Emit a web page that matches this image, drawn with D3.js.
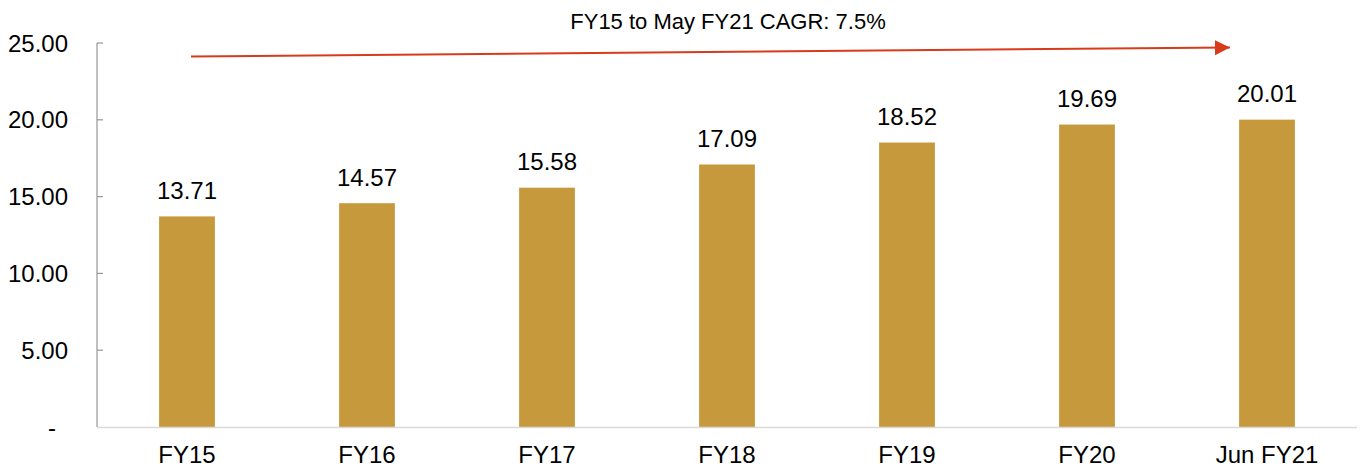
<!DOCTYPE html>
<html>
<head>
<meta charset="utf-8">
<script src="https://cdn.jsdelivr.net/npm/d3@7"></script>
<style>
  body { margin: 0; background: #fff; }
  svg text { font-family: Arial, "Liberation Sans", sans-serif; fill: #000; }
</style>
</head>
<body>
<div id="chart"></div>
<script>
// chart data
var categories = ['FY15', 'FY16', 'FY17', 'FY18', 'FY19', 'FY20', 'Jun FY21'];
var values = [13.71, 14.57, 15.58, 17.09, 18.52, 19.69, 20.01];
var yTicks = [0, 5, 10, 15, 20, 25];
var cagrLabel = 'FY15 to May FY21 CAGR: 7.5%';

var W = 1362, H = 470
  , plotLeft = 97, plotRight = 1357, plotTop = 43, plotBottom = 427
  , barColor = '#C69A3C'
  , arrowColor = '#D93A1A';

var svg = d3.select('#chart').append('svg')
    .attr('width', W)
    .attr('height', H);

var x = d3.scaleBand()
    .domain(categories)
    .range([plotLeft, plotRight])
    .paddingInner(0.69)
    .paddingOuter(0.345);

var y = d3.scaleLinear()
    .domain([0, 25])
    .range([plotBottom, plotTop]);

// bars
svg.selectAll('rect.bar')
    .data(values)
  .enter().append('rect')
    .attr('class', 'bar')
    .attr('x', function (d, i) { return x(categories[i]); })
    .attr('y', function (d) { return y(d); })
    .attr('width', x.bandwidth())
    .attr('height', function (d) { return y(0) - y(d); })
    .style('fill', barColor);

// value labels
svg.selectAll('text.val')
    .data(values)
  .enter().append('text')
    .attr('class', 'val')
    .attr('x', function (d, i) { return x(categories[i]) + x.bandwidth() / 2; })
    .attr('y', function (d) { return y(d) - 17.5; })
    .style('text-anchor', 'middle')
    .style('font-size', '24px')
    .text(function (d) { return d.toFixed(2); });

// x axis line
svg.append('line')
    .attr('x1', plotLeft).attr('x2', plotRight)
    .attr('y1', plotBottom + 0.5).attr('y2', plotBottom + 0.5)
    .style('stroke', '#d9d9d9')
    .style('stroke-width', 1.5);

// y axis line + inward ticks
svg.append('line')
    .attr('x1', plotLeft).attr('x2', plotLeft)
    .attr('y1', plotTop).attr('y2', plotBottom)
    .style('stroke', '#969696')
    .style('stroke-width', 1.2);

svg.selectAll('line.ytick')
    .data(yTicks.slice(1))
  .enter().append('line')
    .attr('class', 'ytick')
    .attr('x1', plotLeft).attr('x2', plotLeft + 6)
    .attr('y1', function (d) { return y(d); })
    .attr('y2', function (d) { return y(d); })
    .style('stroke', '#969696')
    .style('stroke-width', 1.2);

svg.selectAll('text.ylab')
    .data(yTicks)
  .enter().append('text')
    .attr('class', 'ylab')
    .attr('x', function (d) { return d === 0 ? 56 : 68; })
    .attr('y', function (d) { return y(d); })
    .attr('dy', '0.36em')
    .style('text-anchor', 'end')
    .style('font-size', '24px')
    .text(function (d) { return d === 0 ? '-' : d.toFixed(2); });

// category labels
svg.selectAll('text.xlab')
    .data(categories)
  .enter().append('text')
    .attr('class', 'xlab')
    .attr('x', function (d) { return x(d) + x.bandwidth() / 2; })
    .attr('y', 463)
    .style('text-anchor', 'middle')
    .style('font-size', '24px')
    .text(function (d) { return d; });

// CAGR arrow
svg.append('defs').append('marker')
    .attr('id', 'arrowhead')
    .attr('viewBox', '0 0 10 10')
    .attr('refX', 10).attr('refY', 5)
    .attr('markerUnits', 'userSpaceOnUse')
    .attr('markerWidth', 15).attr('markerHeight', 16)
    .attr('orient', 'auto')
  .append('path')
    .attr('d', 'M0,0 L10,5 L0,10 Z')
    .style('fill', arrowColor);

svg.append('line')
    .attr('x1', 191).attr('y1', 56.5)
    .attr('x2', 1230).attr('y2', 47.5)
    .style('stroke', arrowColor)
    .style('stroke-width', 2)
    .attr('marker-end', 'url(#arrowhead)');

svg.append('text')
    .attr('x', 728)
    .attr('y', 29)
    .style('text-anchor', 'middle')
    .style('font-size', '22px')
    .text(cagrLabel);
</script>
</body>
</html>
